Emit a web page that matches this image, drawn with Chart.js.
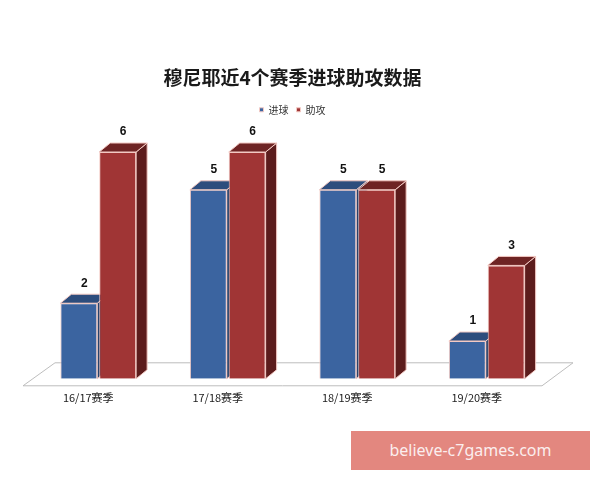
<!DOCTYPE html>
<html>
<head>
<meta charset="utf-8">
<script src="https://cdn.jsdelivr.net/npm/chart.js@4/dist/chart.umd.min.js"></script>
<style>
  html, body { margin: 0; padding: 0; background: #fff; }
  #wrap { position: relative; width: 600px; height: 480px; }
  #c { display: block; }
  #wm {
    position: absolute; left: 351px; top: 431px; width: 239px; height: 39px;
    background: #e3877f; color: #fbeeee;
    font-family: "Noto Sans", "DejaVu Sans", sans-serif; font-size: 16px;
    line-height: 39px; text-align: center;
  }
</style>
</head>
<body>
<div id="wrap">
  <canvas id="c" width="600" height="480"></canvas>
  <div id="wm">believe-c7games.com</div>
</div>
<script>
const titleText = '穆尼耶近4个赛季进球助攻数据';
const categories = ['16/17赛季', '17/18赛季', '18/19赛季', '19/20赛季'];
const seriesNames = ['进球', '助攻'];
const goals = [2, 5, 5, 1];
const assists = [6, 6, 5, 3];

const FRONT = ['#3b64a0', '#a03535'];
const TOP = ['#2d4d7d', '#6e2424'];
const SIDE = ['#27436d', '#5c1c1c'];
const EDGE = '#f3c9c3';
const DX = 11, DY = -9;

const threeD = {
  id: 'threeD',
  beforeDatasetsDraw(chart) {
    const ctx = chart.ctx;
    const area = chart.chartArea;
    const y0 = chart.scales.y.getPixelForValue(0);
    // floor
    ctx.save();
    ctx.beginPath();
    ctx.moveTo(area.left - 10.5, y0 + 7);
    ctx.lineTo(area.right - 9.5, y0 + 7);
    ctx.lineTo(area.right + 21.5, y0 - 16);
    ctx.lineTo(area.left + 21.5, y0 - 16);
    ctx.closePath();
    ctx.fillStyle = '#ffffff';
    ctx.fill();
    ctx.strokeStyle = '#bdbdbd';
    ctx.lineWidth = 1;
    ctx.stroke();
    // side and top faces
    chart.data.datasets.forEach((ds, di) => {
      const meta = chart.getDatasetMeta(di);
      meta.data.forEach(bar => {
        const p = bar.getProps(['x', 'y', 'base', 'width'], true);
        const l = p.x - p.width / 2, r = p.x + p.width / 2;
        ctx.strokeStyle = EDGE;
        ctx.lineWidth = 1;
        ctx.beginPath();
        ctx.moveTo(r, p.y);
        ctx.lineTo(r + DX, p.y + DY);
        ctx.lineTo(r + DX, p.base + DY);
        ctx.lineTo(r, p.base);
        ctx.closePath();
        ctx.fillStyle = SIDE[di];
        ctx.fill();
        ctx.stroke();
        ctx.beginPath();
        ctx.moveTo(l, p.y);
        ctx.lineTo(l + DX, p.y + DY);
        ctx.lineTo(r + DX, p.y + DY);
        ctx.lineTo(r, p.y);
        ctx.closePath();
        ctx.fillStyle = TOP[di];
        ctx.fill();
        ctx.stroke();
      });
    });
    ctx.restore();
  },
  afterDatasetsDraw(chart) {
    const ctx = chart.ctx;
    ctx.save();
    ctx.font = 'bold 12px "Liberation Sans", Arial, sans-serif';
    ctx.fillStyle = '#111';
    ctx.textAlign = 'center';
    ctx.textBaseline = 'bottom';
    chart.data.datasets.forEach((ds, di) => {
      const meta = chart.getDatasetMeta(di);
      meta.data.forEach((bar, i) => {
        const p = bar.getProps(['x', 'y'], true);
        ctx.fillText(String(ds.data[i]), p.x + DX / 2, p.y + DY - 5);
      });
    });
    ctx.restore();
  }
};

new Chart(document.getElementById('c'), {
  type: 'bar',
  data: {
    labels: categories,
    datasets: [
      { label: seriesNames[0], data: goals, backgroundColor: FRONT[0], borderColor: EDGE, borderWidth: 1 },
      { label: seriesNames[1], data: assists, backgroundColor: FRONT[1], borderColor: EDGE, borderWidth: 1 }
    ]
  },
  options: {
    responsive: false,
    animation: false,
    devicePixelRatio: 1,
    layout: { padding: { left: 33.5, right: 48.5, top: 0, bottom: 72 } },
    datasets: { bar: { categoryPercentage: 0.6, barPercentage: 0.95 } },
    plugins: {
      title: {
        display: true, text: titleText, color: '#1a1a1a',
        font: { family: '"Noto Sans CJK SC", sans-serif', size: 19, weight: 'bold' },
        padding: { top: 66, bottom: 8 }
      },
      legend: {
        display: true,
        labels: {
          boxWidth: 4, boxHeight: 4, padding: 8, color: '#333',
          font: { family: '"Noto Sans CJK SC", sans-serif', size: 10 }
        }
      },
      tooltip: { enabled: false }
    },
    scales: {
      x: {
        grid: { display: false }, border: { display: false },
        ticks: {
          color: '#222', padding: 4, labelOffset: -10,
          font: { family: '"Noto Sans CJK SC", sans-serif', size: 11 }
        }
      },
      y: { display: false, min: 0, max: 6.72 }
    }
  },
  plugins: [threeD]
});
</script>
</body>
</html>
